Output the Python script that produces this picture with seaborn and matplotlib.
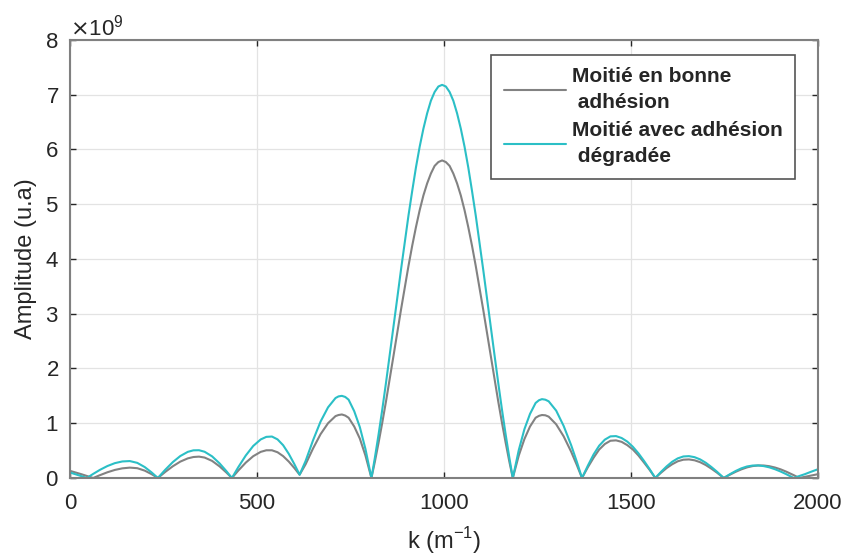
import matplotlib
matplotlib.use("Agg")
import numpy as np
import pandas as pd
import seaborn as sns
import matplotlib.pyplot as plt

# wavenumber samples (m^-1)
k = [0, 15, 30, 45, 62, 80, 100, 120, 140, 160, 180, 200, 218, 235,
     255, 275, 295, 315, 330, 345, 360, 380, 400, 418, 433,
     450, 470, 490, 510, 525, 540, 555, 570, 585, 600, 614,
     630, 650, 670, 690, 710, 718, 727, 736, 745, 760, 775, 790, 806,
     815, 825, 835, 845, 855, 865, 875, 885, 895, 905, 915, 925, 935, 945,
     955, 965, 975, 985, 995, 1005, 1015, 1025, 1035, 1045, 1055, 1065,
     1075, 1085, 1095, 1105, 1115, 1125, 1135, 1145, 1155, 1165, 1175, 1184,
     1200, 1215, 1230, 1245, 1254, 1262, 1271, 1280, 1300, 1320, 1340, 1355, 1369,
     1385, 1400, 1415, 1430, 1445, 1460, 1475, 1490, 1505, 1520, 1535, 1550, 1565,
     1580, 1595, 1610, 1625, 1640, 1655, 1670, 1685, 1700, 1715, 1730, 1748,
     1765, 1780, 1795, 1810, 1825, 1840, 1855, 1870, 1885, 1900, 1915, 1925,
     1935, 1943, 1950, 1965, 1980, 2000]

# amplitudes in units of 1e9
bonne = [0.13, 0.10, 0.07, 0.037, 0.0, 0.051, 0.104, 0.147, 0.176, 0.189, 0.179, 0.134, 0.071, 0.0,
         0.112, 0.214, 0.299, 0.358, 0.383, 0.390, 0.373, 0.312, 0.212, 0.101, 0.0,
         0.135, 0.280, 0.398, 0.477, 0.506, 0.506, 0.470, 0.399, 0.300, 0.181, 0.06,
         0.25, 0.54, 0.80, 1.00, 1.13, 1.15, 1.16, 1.14, 1.10, 0.94, 0.72, 0.41, 0.0,
         0.29, 0.64, 1.01, 1.40, 1.81, 2.23, 2.65, 3.07, 3.47, 3.87, 4.24, 4.58, 4.89, 5.16,
         5.38, 5.56, 5.70, 5.77, 5.80, 5.77, 5.70, 5.56, 5.38, 5.16, 4.89, 4.58,
         4.24, 3.87, 3.47, 3.07, 2.65, 2.23, 1.81, 1.40, 1.01, 0.64, 0.29, 0.0,
         0.41, 0.71, 0.94, 1.10, 1.135, 1.15, 1.145, 1.12, 0.98, 0.76, 0.48, 0.24, 0.0,
         0.20, 0.37, 0.52, 0.62, 0.68, 0.687, 0.66, 0.60, 0.52, 0.41, 0.28, 0.146, 0.0,
         0.094, 0.18, 0.25, 0.305, 0.334, 0.339, 0.323, 0.288, 0.236, 0.17, 0.097, 0.0,
         0.062, 0.113, 0.157, 0.193, 0.217, 0.229, 0.228, 0.215, 0.191, 0.158, 0.116, 0.085,
         0.052, 0.024, 0.0, 0.021, 0.042, 0.07]

degradee = [0.10, 0.068, 0.035, 0.0, 0.074, 0.148, 0.218, 0.271, 0.302, 0.309, 0.276, 0.199, 0.103, 0.0,
            0.152, 0.290, 0.401, 0.477, 0.505, 0.507, 0.479, 0.395, 0.267, 0.127, 0.0,
            0.197, 0.410, 0.585, 0.704, 0.751, 0.757, 0.705, 0.598, 0.441, 0.252, 0.06,
            0.31, 0.69, 1.03, 1.29, 1.46, 1.49, 1.50, 1.48, 1.43, 1.22, 0.93, 0.53, 0.0,
            0.36, 0.79, 1.25, 1.74, 2.25, 2.76, 3.28, 3.80, 4.30, 4.79, 5.24, 5.67, 6.05, 6.38,
            6.66, 6.89, 7.05, 7.15, 7.18, 7.15, 7.05, 6.89, 6.66, 6.38, 6.05, 5.67,
            5.24, 4.79, 4.30, 3.80, 3.28, 2.76, 2.25, 1.74, 1.25, 0.79, 0.36, 0.0,
            0.51, 0.89, 1.17, 1.37, 1.42, 1.44, 1.43, 1.40, 1.23, 0.95, 0.60, 0.30, 0.0,
            0.23, 0.43, 0.59, 0.70, 0.76, 0.765, 0.73, 0.665, 0.57, 0.45, 0.31, 0.16, 0.0,
            0.11, 0.21, 0.296, 0.358, 0.393, 0.399, 0.38, 0.339, 0.278, 0.20, 0.114, 0.0,
            0.071, 0.128, 0.176, 0.21, 0.227, 0.229, 0.217, 0.194, 0.16, 0.118, 0.07, 0.035,
            0.0, 0.02, 0.036, 0.07, 0.11, 0.16]

labels = ["Moitié en bonne\n adhésion", "Moitié avec adhésion\n dégradée"]
colors = ["#828282", "#2bbfc6"]

df = pd.DataFrame({
    "k": k + k,
    "amp": [v * 1e9 for v in bonne] + [v * 1e9 for v in degradee],
    "serie": [labels[0]] * len(k) + [labels[1]] * len(k),
})

sns.set_theme(style="whitegrid")
plt.rcParams["font.family"] = ["Liberation Sans", "DejaVu Sans"]

fig = plt.figure(figsize=(8.46, 5.58), dpi=100)
ax = fig.add_axes([0.0827, 0.1434, 0.8842, 0.785])

sns.lineplot(data=df, x="k", y="amp", hue="serie", palette=colors,
             estimator=None, linewidth=1.5, ax=ax)

ax.set_xlim(0, 2000)
ax.set_ylim(0, 8e9)
ax.set_xticks([0, 500, 1000, 1500, 2000])
ax.set_yticks(np.arange(0, 9) * 1e9)
ax.ticklabel_format(axis="y", style="sci", scilimits=(9, 9), useMathText=True)

ax.set_facecolor("white")
ax.grid(True, color="#e3e3e3", linewidth=0.9)
for s in ax.spines.values():
    s.set_color("#808080")
    s.set_linewidth(1.5)
ax.tick_params(direction="in", length=4, width=1, color="#262626",
               labelsize=16, labelcolor="#262626", top=True, right=True,
               bottom=True, left=True)
ax.tick_params(axis="x", pad=11)
ax.tick_params(axis="y", pad=8)
ax.yaxis.get_offset_text().set_fontsize(16)
ax.yaxis.get_offset_text().set_color("#262626")

ax.set_xlabel("k (m$^{\\mathregular{-1}}$)", fontsize=17, color="#262626", labelpad=8)
ax.set_ylabel("Amplitude (u.a)", fontsize=17, color="#262626", labelpad=6)

handles, labs = ax.get_legend_handles_labels()
leg = ax.legend(handles, labs, loc="upper right", bbox_to_anchor=(0.969, 0.966),
                prop={"weight": "bold", "size": 15}, frameon=True, fancybox=False,
                framealpha=1, edgecolor="#555555", handlelength=3.0,
                handletextpad=0.25, borderpad=0.6, labelspacing=0.45,
                borderaxespad=0)
for t in leg.get_texts():
    t.set_linespacing(1.45)
leg.get_frame().set_linewidth(1.2)

fig.savefig("out.png", dpi=100)
